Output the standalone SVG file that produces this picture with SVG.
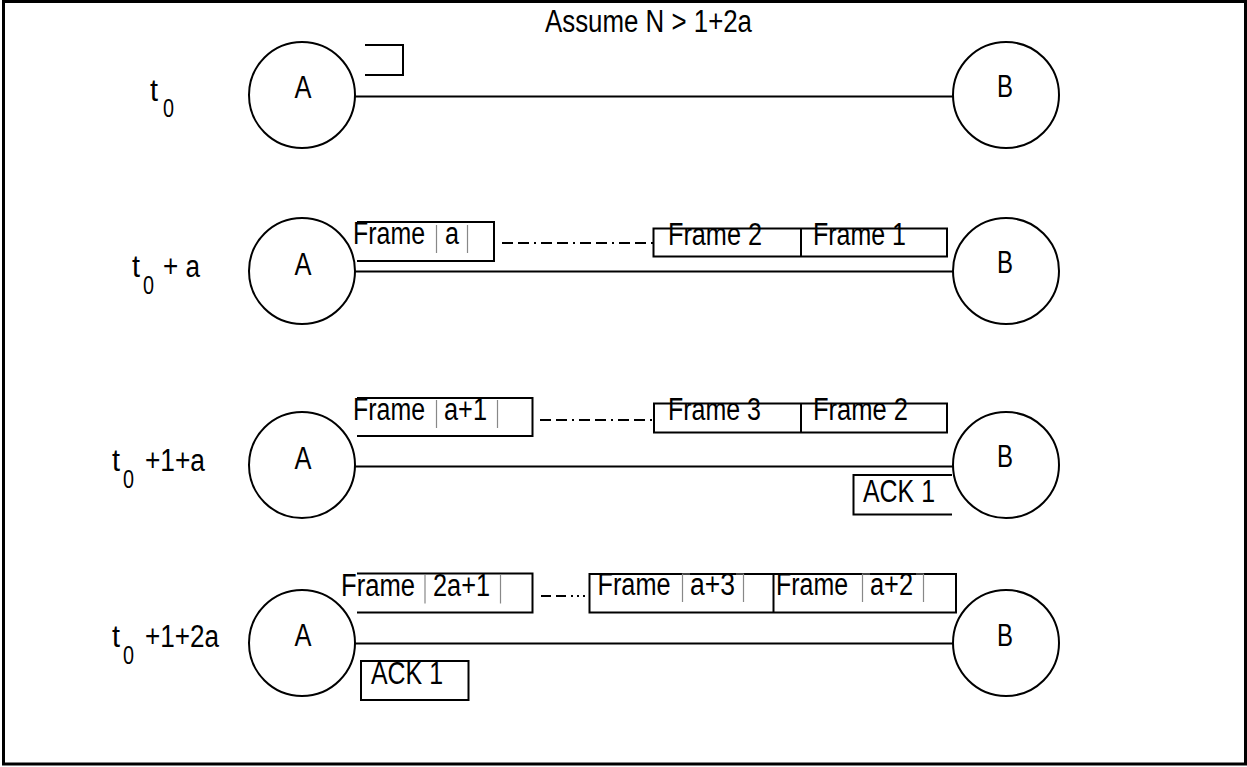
<svg xmlns="http://www.w3.org/2000/svg" width="1247" height="767" viewBox="0 0 1247 767">
  <style>
    .txt { font-family: "Liberation Sans", Arial, sans-serif; font-size: 31px; fill: #000; }
    .sub { font-family: "Liberation Sans", Arial, sans-serif; font-size: 26px; fill: #000; }
    .node { fill: #fff; stroke: #000; stroke-width: 2; }
    .link { fill: none; stroke: #000; stroke-width: 2; }
    .box { fill: none; stroke: #000; stroke-width: 2; }
    .div { fill: none; stroke: #888; stroke-width: 1.2; }
    .dash2 { fill: none; stroke: #000; stroke-width: 2; stroke-dasharray: 11 5 11 5 2 5; }
  </style>

  <!-- outer frame -->
  <rect x="3.5" y="1.5" width="1242" height="762.5" fill="#fff" stroke="#000" stroke-width="3"/>

  <text class="txt" x="545" y="31.5" textLength="207" lengthAdjust="spacingAndGlyphs">Assume N &gt; 1+2a</text>

  <!-- time labels -->
  <g id="time-labels">
    <text class="txt" x="150" y="101" textLength="8" lengthAdjust="spacingAndGlyphs">t</text>
    <text class="sub" x="163" y="117" textLength="11" lengthAdjust="spacingAndGlyphs">0</text>

    <text class="txt" x="132" y="277" textLength="8" lengthAdjust="spacingAndGlyphs">t</text>
    <text class="sub" x="143" y="294" textLength="11" lengthAdjust="spacingAndGlyphs">0</text>
    <text class="txt" x="163" y="277" textLength="37" lengthAdjust="spacingAndGlyphs">+ a</text>

    <text class="txt" x="112" y="471" textLength="8" lengthAdjust="spacingAndGlyphs">t</text>
    <text class="sub" x="123" y="488" textLength="11" lengthAdjust="spacingAndGlyphs">0</text>
    <text class="txt" x="145" y="471" textLength="60" lengthAdjust="spacingAndGlyphs">+1+a</text>

    <text class="txt" x="112" y="647" textLength="8" lengthAdjust="spacingAndGlyphs">t</text>
    <text class="sub" x="123" y="664" textLength="11" lengthAdjust="spacingAndGlyphs">0</text>
    <text class="txt" x="145" y="647" textLength="74" lengthAdjust="spacingAndGlyphs">+1+2a</text>
  </g>

  <!-- links between stations -->
  <g id="connectors">
    <line class="link" x1="355" y1="96.5" x2="953" y2="96.5"/>
    <line class="link" x1="355" y1="271.5" x2="953" y2="271.5"/>
    <line class="link" x1="355" y1="466.5" x2="953" y2="466.5"/>
    <line class="link" x1="355" y1="643.5" x2="953" y2="643.5"/>
  </g>

  <!-- stations -->
  <g id="nodeA-t0"><circle class="node" cx="302" cy="95" r="53"/><text class="txt" x="303" y="98" text-anchor="middle" textLength="17" lengthAdjust="spacingAndGlyphs">A</text></g>
  <g id="nodeB-t0"><circle class="node" cx="1006" cy="95" r="53"/><text class="txt" x="1005" y="97" text-anchor="middle" textLength="16" lengthAdjust="spacingAndGlyphs">B</text></g>
  <g id="nodeA-t0a"><circle class="node" cx="302" cy="271" r="53"/><text class="txt" x="303" y="275" text-anchor="middle" textLength="17" lengthAdjust="spacingAndGlyphs">A</text></g>
  <g id="nodeB-t0a"><circle class="node" cx="1006" cy="271" r="53"/><text class="txt" x="1005" y="273" text-anchor="middle" textLength="16" lengthAdjust="spacingAndGlyphs">B</text></g>
  <g id="nodeA-t01a"><circle class="node" cx="302" cy="465" r="53"/><text class="txt" x="303" y="469" text-anchor="middle" textLength="17" lengthAdjust="spacingAndGlyphs">A</text></g>
  <g id="nodeB-t01a"><circle class="node" cx="1006" cy="465" r="53"/><text class="txt" x="1005" y="467" text-anchor="middle" textLength="16" lengthAdjust="spacingAndGlyphs">B</text></g>
  <g id="nodeA-t012a"><circle class="node" cx="302" cy="643" r="53"/><text class="txt" x="303" y="646" text-anchor="middle" textLength="17" lengthAdjust="spacingAndGlyphs">A</text></g>
  <g id="nodeB-t012a"><circle class="node" cx="1006" cy="643" r="53"/><text class="txt" x="1005" y="646" text-anchor="middle" textLength="16" lengthAdjust="spacingAndGlyphs">B</text></g>

  <!-- t0: first frame leaving A -->
  <g id="frame-start">
    <path class="box" d="M365,45 H403 V75 H365"/>
  </g>

  <!-- t0 + a -->
  <g id="frame-a">
    <path class="box" d="M357,222 H494 V261 H357"/>
    <line class="div" x1="436.5" y1="225" x2="436.5" y2="253"/>
    <line class="div" x1="467.5" y1="225" x2="467.5" y2="253"/>
    <text class="txt" x="353" y="243.5" textLength="72" lengthAdjust="spacingAndGlyphs">Frame</text>
    <text class="txt" x="445" y="243.5" textLength="14" lengthAdjust="spacingAndGlyphs">a</text>
  </g>
  <line class="dash2" x1="502" y1="243" x2="654" y2="243"/>
  <g id="frames-2-1">
    <rect class="box" x="653.5" y="228.5" width="293.5" height="28"/>
    <line class="box" x1="801" y1="228.5" x2="801" y2="256.5"/>
    <text class="txt" x="668" y="245" textLength="94" lengthAdjust="spacingAndGlyphs">Frame 2</text>
    <text class="txt" x="813" y="245" textLength="93" lengthAdjust="spacingAndGlyphs">Frame 1</text>
  </g>

  <!-- t0 + 1 + a -->
  <g id="frame-a1">
    <path class="box" d="M357,398 H532.5 V436 H357"/>
    <line class="div" x1="436.5" y1="400" x2="436.5" y2="428"/>
    <line class="div" x1="497.5" y1="400" x2="497.5" y2="428"/>
    <text class="txt" x="353" y="420" textLength="72" lengthAdjust="spacingAndGlyphs">Frame</text>
    <text class="txt" x="444" y="420" textLength="43" lengthAdjust="spacingAndGlyphs">a+1</text>
  </g>
  <line class="dash2" x1="540" y1="420" x2="654" y2="420"/>
  <g id="frames-3-2">
    <rect class="box" x="654" y="403.5" width="293" height="29"/>
    <line class="box" x1="801" y1="403.5" x2="801" y2="432.5"/>
    <text class="txt" x="668" y="420" textLength="93" lengthAdjust="spacingAndGlyphs">Frame 3</text>
    <text class="txt" x="813" y="420" textLength="95" lengthAdjust="spacingAndGlyphs">Frame 2</text>
  </g>
  <g id="ack-at-b">
    <path class="box" d="M952,475 H853.5 V514.5 H952"/>
    <text class="txt" x="863" y="501.5" textLength="72" lengthAdjust="spacingAndGlyphs">ACK 1</text>
  </g>

  <!-- t0 + 1 + 2a -->
  <g id="frame-2a1">
    <path class="box" d="M357,573.5 H532.5 V612.5 H357"/>
    <line class="div" x1="425" y1="575" x2="425" y2="603.5"/>
    <line class="div" x1="500.5" y1="575" x2="500.5" y2="603.5"/>
    <text class="txt" x="341" y="596" textLength="74" lengthAdjust="spacingAndGlyphs">Frame</text>
    <text class="txt" x="433" y="596" textLength="57" lengthAdjust="spacingAndGlyphs">2a+1</text>
  </g>
  <line class="link" x1="541" y1="596" x2="590" y2="596" style="stroke-dasharray: 10 5 10 5 2 4 2 4 2 4"/>
  <g id="frames-a3-a2">
    <rect class="box" x="589.5" y="574" width="366.5" height="38.5"/>
    <line class="box" x1="773.5" y1="574" x2="773.5" y2="612.5"/>
    <path class="div" d="M682.5,602 V574 H690 M743.5,602 V574 H736"/>
    <path class="div" d="M862.5,602 V574 H870 M923.5,602 V574 H916"/>
    <text class="txt" x="597.5" y="595" textLength="73" lengthAdjust="spacingAndGlyphs">Frame</text>
    <text class="txt" x="690" y="595" textLength="45" lengthAdjust="spacingAndGlyphs">a+3</text>
    <text class="txt" x="776" y="595" textLength="72" lengthAdjust="spacingAndGlyphs">Frame</text>
    <text class="txt" x="870" y="595" textLength="43" lengthAdjust="spacingAndGlyphs">a+2</text>
  </g>
  <g id="ack-at-a">
    <rect class="box" x="361" y="661" width="107.5" height="39"/>
    <text class="txt" x="371" y="683.5" textLength="72" lengthAdjust="spacingAndGlyphs">ACK 1</text>
  </g>
</svg>
